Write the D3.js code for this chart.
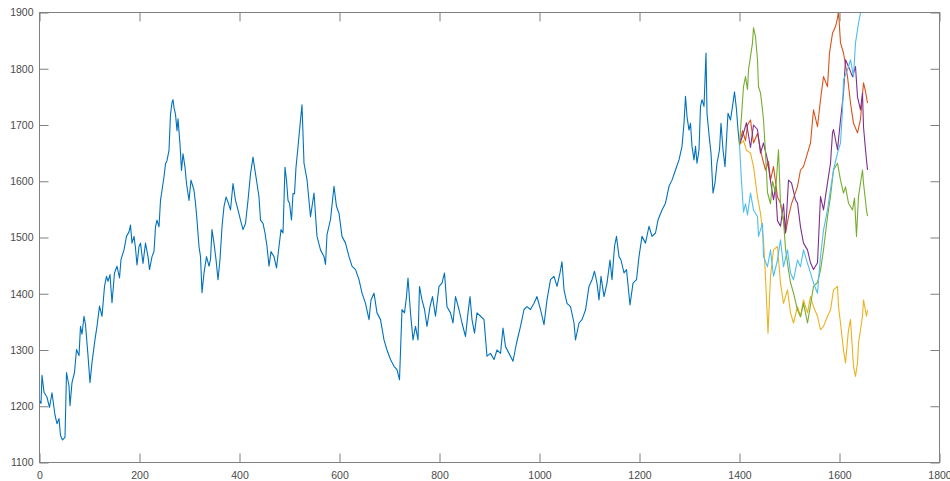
<!DOCTYPE html>
<html>
<head>
<meta charset="utf-8">
<script src="https://cdn.jsdelivr.net/npm/d3@7"></script>
<style>
html,body{margin:0;padding:0;background:#fff;}
svg{display:block;}
</style>
</head>
<body>
<svg id="chart" width="950" height="481"></svg>
<script>
// ---- data ----
const xTicks = [0, 200, 400, 600, 800, 1000, 1200, 1400, 1600, 1800];
const yTicks = [1100, 1200, 1300, 1400, 1500, 1600, 1700, 1800, 1900];

const blueX = [0,3,5,9,15,20,25,31,35,39,42,46,49,51,54,59,61,65,70,74,79,82,85,89,92,97,101,105,111,115,120,125,130,134,137,141,145,150,155,160,163,169,174,179,182,185,189,192,195,199,202,207,212,217,220,225,229,232,235,239,242,245,249,252,255,259,262,265,267,269,272,275,277,281,284,287,291,294,299,303,309,312,315,319,322,325,329,334,339,342,345,349,353,357,361,365,369,373,377,382,387,392,397,402,407,412,417,422,427,431,435,439,442,447,451,455,459,463,469,474,479,483,487,491,494,497,500,504,507,510,513,517,520,525,529,535,542,549,555,562,569,572,575,582,589,594,599,605,612,619,625,632,639,645,652,659,663,669,675,682,689,695,702,709,715,720,725,730,734,737,742,747,752,757,760,765,770,775,781,786,792,799,805,810,815,822,827,832,839,845,852,857,861,865,870,875,882,889,895,902,909,915,922,927,932,939,947,954,962,969,975,982,989,995,1002,1009,1015,1022,1029,1035,1041,1045,1049,1055,1062,1069,1072,1079,1085,1092,1099,1105,1110,1115,1119,1123,1129,1135,1141,1145,1150,1154,1159,1163,1169,1174,1181,1187,1194,1199,1205,1212,1219,1225,1232,1237,1245,1252,1259,1265,1272,1279,1285,1289,1292,1295,1299,1302,1305,1309,1312,1315,1319,1322,1325,1329,1333,1335,1340,1343,1347,1351,1355,1360,1363,1367,1371,1374,1377,1382,1386,1390,1394,1397,1400];
const blueY = [1210,1205,1255,1225,1216,1198,1224,1184,1169,1178,1148,1140,1143,1145,1260,1236,1201,1242,1260,1301,1290,1342,1328,1360,1345,1290,1242,1278,1319,1342,1378,1360,1413,1431,1422,1434,1384,1437,1449,1428,1461,1478,1502,1510,1522,1490,1502,1481,1451,1484,1490,1454,1490,1466,1443,1466,1475,1519,1531,1519,1566,1584,1608,1631,1637,1655,1719,1740,1745,1731,1719,1690,1711,1666,1619,1649,1625,1596,1566,1602,1584,1561,1531,1484,1466,1402,1437,1466,1449,1461,1514,1490,1461,1425,1461,1519,1555,1572,1563,1549,1596,1566,1549,1531,1514,1525,1566,1613,1643,1619,1596,1572,1531,1525,1508,1484,1449,1475,1466,1446,1484,1514,1508,1625,1602,1566,1561,1531,1578,1578,1625,1661,1690,1736,1632,1603,1537,1579,1502,1478,1466,1452,1505,1532,1591,1555,1543,1502,1490,1466,1449,1443,1425,1401,1383,1354,1389,1401,1366,1354,1318,1300,1283,1271,1265,1247,1372,1366,1395,1428,1366,1318,1342,1318,1413,1389,1372,1342,1377,1395,1360,1413,1419,1437,1377,1366,1348,1395,1372,1348,1324,1366,1395,1354,1330,1366,1360,1354,1289,1294,1283,1300,1294,1339,1306,1294,1280,1312,1342,1372,1377,1372,1383,1395,1372,1345,1389,1425,1431,1413,1437,1457,1407,1383,1377,1348,1318,1348,1354,1371,1413,1425,1440,1419,1389,1431,1395,1419,1460,1425,1484,1502,1466,1460,1437,1443,1380,1419,1425,1466,1502,1490,1520,1502,1508,1531,1549,1561,1591,1602,1620,1638,1662,1703,1751,1715,1691,1703,1662,1638,1662,1632,1656,1733,1745,1733,1828,1721,1674,1650,1579,1597,1632,1656,1703,1656,1626,1674,1721,1709,1733,1759,1727,1691,1665];

const orangeX = [1400,1406,1412,1416,1422,1428,1436,1442,1446,1452,1458,1462,1468,1476,1482,1488,1492,1498,1504,1510,1516,1522,1528,1536,1542,1548,1556,1562,1568,1576,1580,1586,1592,1596,1598,1602,1608,1616,1622,1628,1636,1642,1648,1652,1656];
const orangeY = [1665,1690,1672,1700,1709,1668,1685,1656,1640,1620,1635,1602,1626,1572,1561,1530,1508,1537,1560,1575,1591,1620,1626,1650,1668,1727,1697,1745,1786,1768,1828,1863,1875,1890,1902,1846,1828,1786,1739,1703,1686,1710,1775,1760,1739];

const yellowX = [1400,1408,1414,1422,1428,1436,1442,1448,1452,1455,1457,1462,1468,1476,1482,1488,1496,1502,1508,1516,1522,1528,1536,1542,1548,1556,1562,1568,1576,1582,1588,1596,1598,1602,1608,1612,1618,1622,1628,1632,1636,1638,1646,1648,1654,1656];
const yellowY = [1665,1672,1655,1650,1626,1572,1543,1496,1430,1371,1330,1431,1478,1484,1419,1383,1407,1366,1348,1377,1360,1389,1366,1395,1377,1360,1336,1342,1360,1371,1407,1413,1377,1348,1300,1277,1336,1354,1271,1253,1277,1312,1360,1389,1360,1371];

const purpleX = [1400,1406,1414,1422,1428,1436,1442,1448,1456,1462,1468,1472,1476,1482,1488,1492,1498,1504,1512,1516,1522,1528,1536,1542,1548,1556,1562,1568,1576,1582,1586,1588,1596,1602,1608,1612,1618,1626,1632,1636,1642,1646,1648,1652,1656];
const purpleY = [1665,1680,1704,1660,1700,1692,1650,1668,1638,1600,1567,1590,1530,1520,1560,1508,1602,1597,1567,1561,1519,1490,1478,1455,1443,1455,1573,1549,1597,1632,1686,1692,1656,1709,1757,1816,1804,1786,1804,1750,1727,1757,1697,1656,1620];

const greenX = [1400,1408,1412,1416,1418,1426,1428,1432,1436,1438,1442,1446,1448,1452,1456,1462,1466,1472,1478,1482,1488,1492,1498,1502,1508,1516,1522,1528,1536,1542,1548,1556,1562,1568,1576,1582,1588,1596,1602,1608,1612,1618,1626,1630,1634,1638,1646,1648,1654,1656];
const greenY = [1665,1768,1786,1763,1798,1846,1873,1857,1816,1768,1757,1727,1709,1650,1580,1560,1600,1580,1656,1560,1530,1480,1442,1420,1401,1371,1359,1383,1348,1380,1413,1420,1442,1478,1537,1573,1620,1632,1602,1579,1590,1561,1549,1570,1502,1573,1620,1597,1549,1538];

const cyanX = [1400,1404,1408,1412,1416,1422,1428,1436,1438,1446,1448,1456,1462,1468,1476,1482,1488,1496,1502,1508,1516,1522,1528,1536,1542,1548,1556,1558,1562,1568,1576,1582,1588,1596,1602,1606,1608,1616,1622,1628,1632,1636,1638,1642,1646];
const cyanY = [1665,1600,1545,1560,1540,1579,1549,1537,1502,1525,1466,1448,1478,1431,1460,1496,1448,1478,1437,1425,1460,1448,1478,1454,1437,1419,1401,1425,1466,1513,1549,1585,1620,1650,1668,1727,1780,1798,1816,1786,1846,1869,1881,1899,1912];

const seriesColors = ["#0072BD", "#D95319", "#EDB120", "#7E2F8E", "#77AC30", "#4DBEEE"];

// ---- build ----
const series = [
  {x: blueX, y: blueY},
  {x: orangeX, y: orangeY},
  {x: yellowX, y: yellowY},
  {x: purpleX, y: purpleY},
  {x: greenX, y: greenY},
  {x: cyanX, y: cyanY}
].map((s, i) => ({color: seriesColors[i], pts: s.x.map((v, j) => [v, s.y[j]])}));

const svg = d3.select("#chart");
const L = 39.5, R = 939.5, T = 12.5, B = 462.5;

const x = d3.scaleLinear().domain([0, 1800]).range([L, R]);
const y = d3.scaleLinear().domain([1100, 1900]).range([B, T]);

svg.append("defs").append("clipPath").attr("id", "plotclip")
  .append("rect").attr("x", L).attr("y", T).attr("width", R - L).attr("height", B - T);

const line = d3.line().x(d => x(d[0])).y(d => y(d[1]));

svg.append("g").attr("clip-path", "url(#plotclip)")
  .selectAll("path").data(series).join("path")
  .attr("d", d => line(d.pts))
  .attr("fill", "none")
  .attr("stroke", d => d.color)
  .attr("stroke-width", 1.1)
  .attr("stroke-linejoin", "round");

const axisColor = "#7f7f7f";
const textColor = "#4a4a4a";
const fontFam = "'Liberation Sans', Arial, Helvetica, sans-serif";

function styleAxis(g, showLabels) {
  g.select(".domain").remove();
  g.selectAll(".tick line").attr("stroke", axisColor).attr("stroke-width", 1);
  g.selectAll(".tick text")
    .attr("fill", textColor)
    .style("font-family", fontFam)
    .style("font-size", "10.5px");
  if (!showLabels) g.selectAll(".tick text").remove();
}

svg.append("g").attr("transform", `translate(0,${B})`)
  .call(d3.axisBottom(x).tickValues(xTicks).tickSizeInner(-9).tickSizeOuter(0).tickPadding(9).tickFormat(d3.format("d")))
  .call(g => styleAxis(g, true));
svg.append("g").attr("transform", `translate(0,${T})`)
  .call(d3.axisTop(x).tickValues(xTicks).tickSizeInner(-9).tickSizeOuter(0))
  .call(g => styleAxis(g, false));
svg.append("g").attr("transform", `translate(${L},0)`)
  .call(d3.axisLeft(y).tickValues(yTicks).tickSizeInner(-9).tickSizeOuter(0).tickPadding(6).tickFormat(d3.format("d")))
  .call(g => styleAxis(g, true));
svg.append("g").attr("transform", `translate(${R},0)`)
  .call(d3.axisRight(y).tickValues(yTicks).tickSizeInner(-9).tickSizeOuter(0))
  .call(g => styleAxis(g, false));

svg.append("rect").attr("x", L).attr("y", T).attr("width", R - L).attr("height", B - T)
  .attr("fill", "none").attr("stroke", axisColor).attr("stroke-width", 1);
</script>
</body>
</html>
